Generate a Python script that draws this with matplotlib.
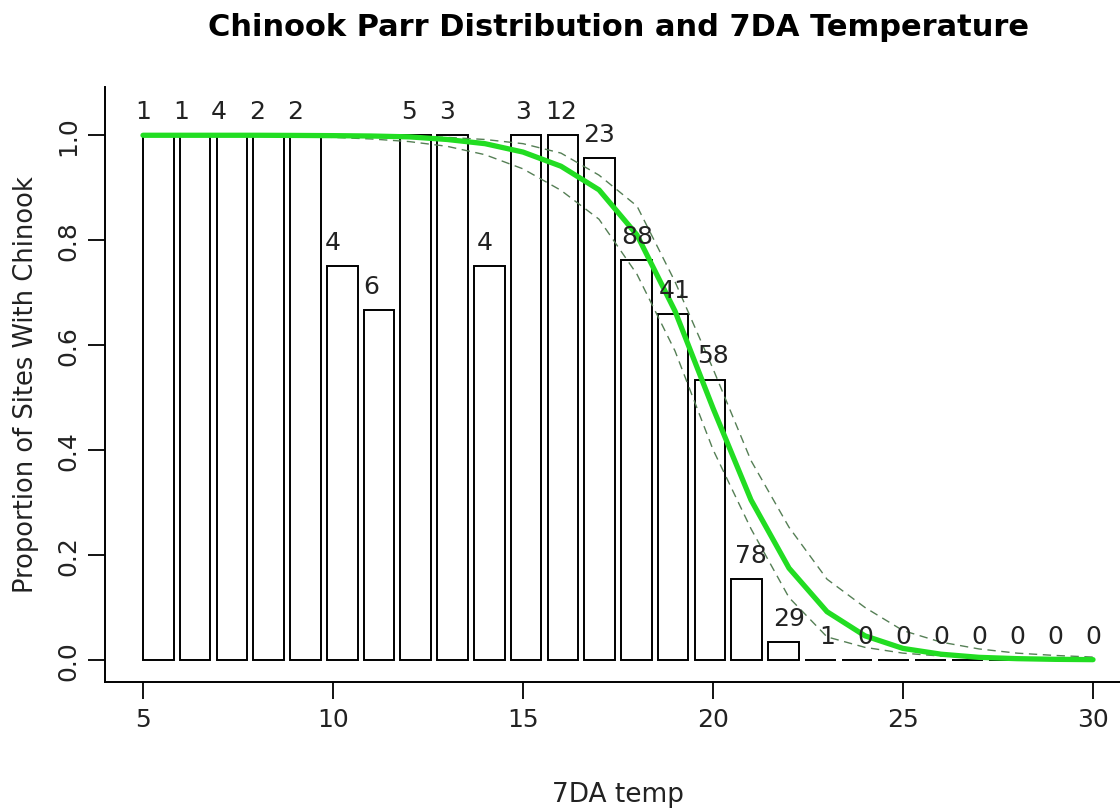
import numpy as np
import matplotlib
matplotlib.use("Agg")
import matplotlib.pyplot as plt

# Temperature bins (7DA temp, deg C) and site counts per bin
temps = list(range(5, 31))
n_sites = [1, 1, 4, 2, 2, 4, 6, 5, 3, 4, 3, 12, 23, 88, 41, 58, 78, 29,
           1, 0, 0, 0, 0, 0, 0, 0]
n_chinook = [1, 1, 4, 2, 2, 3, 4, 5, 3, 3, 3, 12, 22, 67, 27, 31, 12, 1,
             0, 0, 0, 0, 0, 0, 0, 0]

# Fitted probability of Chinook presence with its lower / upper bands
fit = [1.000, 1.000, 1.000, 1.000, 0.9997, 0.9993, 0.9986, 0.997, 0.992,
       0.984, 0.968, 0.941, 0.896, 0.810, 0.665, 0.480, 0.305, 0.175,
       0.092, 0.046, 0.022, 0.011, 0.005, 0.0025, 0.0012, 0.0006]
lower = [0.9995, 0.9995, 0.999, 0.9985, 0.9975, 0.996, 0.993, 0.988, 0.979,
         0.963, 0.936, 0.895, 0.840, 0.735, 0.589, 0.401, 0.250, 0.119,
         0.044, 0.024, 0.013, 0.0074, 0.0043, 0.0025, 0.0015, 0.0009]
upper = [1.000, 1.000, 1.000, 1.000, 1.000, 0.9995, 0.999, 0.998, 0.996,
         0.992, 0.984, 0.966, 0.924, 0.865, 0.721, 0.555, 0.380, 0.253,
         0.154, 0.100, 0.056, 0.034, 0.021, 0.013, 0.0086, 0.0055]

title = "Chinook Parr Distribution and 7DA Temperature"
xlabel = "7DA temp"
ylabel = "Proportion of Sites With Chinook"
xticks = [5, 10, 15, 20, 25, 30]
yticks = [0.0, 0.2, 0.4, 0.6, 0.8, 1.0]

prop = [c / n if n > 0 else 0.0 for c, n in zip(n_chinook, n_sites)]

W, H = 1120, 812
fig = plt.figure(figsize=(W / 100, H / 100), dpi=100)
plt.rcParams['font.family'] = ['DejaVu Sans']

ax = fig.add_axes([105 / W, (H - 683) / H, 1026 / W, 595 / H])
ax.set_xlim(4, 31)
ax.set_ylim(-0.042, 1.092)

# Bars laid out barplot-style (width 1, space 0.2) across the 5-30 range
nb = len(temps)
unit = (temps[-1] - temps[0]) / (nb * 1.2 - 0.2)
bar_left = temps[0] + np.arange(nb) * 1.2 * unit
ax.bar(bar_left, prop, width=unit, align='edge', facecolor='white',
       edgecolor='black', linewidth=1.4, zorder=2)

# Logistic fit and confidence bands
ax.plot(temps, lower, color='#557f55', lw=1.0, ls=(0, (6, 4)), zorder=3)
ax.plot(temps, upper, color='#557f55', lw=1.0, ls=(0, (6, 4)), zorder=3)
ax.plot(temps, fit, color='#22dd22', lw=3.8, solid_capstyle='round',
        zorder=4)

# Site counts above each bin
for t, p, n in zip(temps, prop, n_sites):
    ax.annotate(str(n), (t, p), xytext=(0, 17.5), textcoords='offset points',
                ha='center', va='center', fontsize=18, color='#222222',
                zorder=5)

for side in ('top', 'right'):
    ax.spines[side].set_visible(False)
for side in ('left', 'bottom'):
    ax.spines[side].set_linewidth(1.4)

ax.set_xticks(xticks)
ax.set_xticklabels([str(v) for v in xticks])
ax.set_yticks(yticks)
ax.set_yticklabels([f"{v:.1f}" for v in yticks], rotation=90, va='center')
ax.tick_params(axis='both', direction='out', length=12, width=1.3,
               labelsize=18, colors='black', labelcolor='#222222')
ax.tick_params(axis='x', pad=6)
ax.tick_params(axis='y', pad=6)

fig.text(618 / W, 1 - 28 / H, title, ha='center', va='center',
         fontsize=22, fontweight='bold', color='black')
fig.text(618 / W, 1 - 795 / H, xlabel, ha='center', va='center',
         fontsize=19, color='#222222')
fig.text(26 / W, 1 - 385 / H, ylabel, ha='center', va='center',
         rotation=90, fontsize=18.5, color='#222222')

fig.savefig('out.png', dpi=100, facecolor='white')
